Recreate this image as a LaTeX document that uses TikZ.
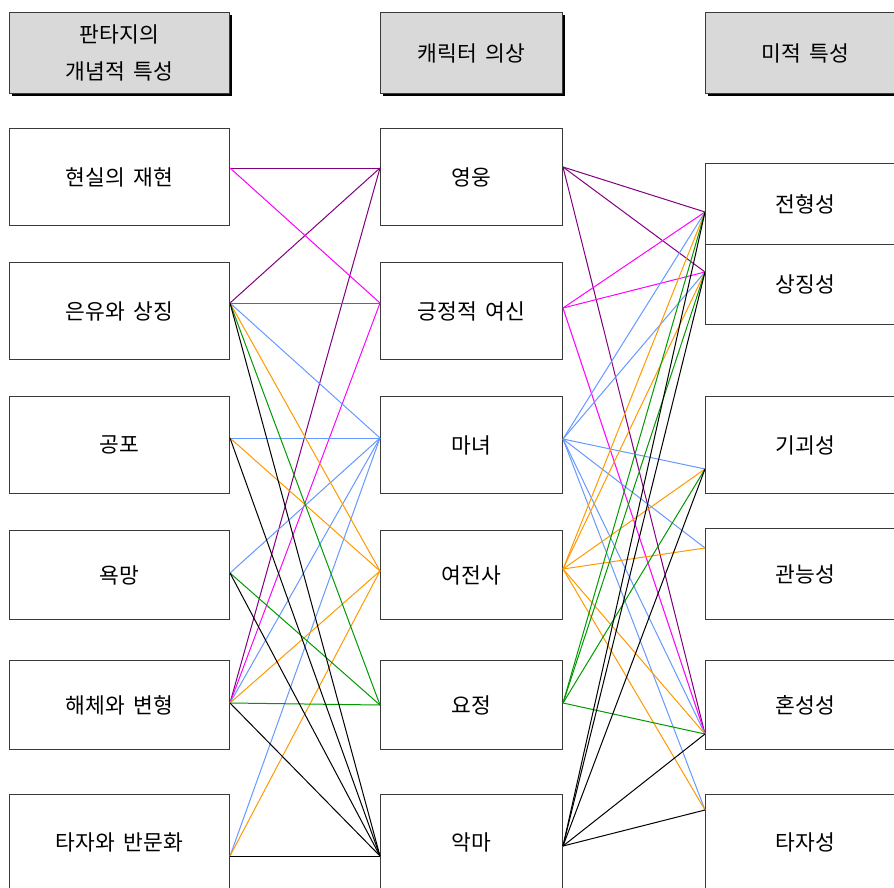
\documentclass[tikz,border=0pt]{standalone}
\usepackage{fontspec}
\newfontfamily\kr[WordSpace=1.8]{Noto Sans CJK KR}
\usetikzlibrary{shadows}
\definecolor{cpu}{HTML}{800080}
\definecolor{cmg}{HTML}{FF00FF}
\definecolor{cbl}{HTML}{6699FF}
\definecolor{cor}{HTML}{FF9900}
\definecolor{cgr}{HTML}{009900}
\definecolor{hdr}{HTML}{D9D9D9}
\definecolor{bord}{HTML}{3A3A3A}
\tikzset{
  box/.style={draw=bord, line width=1pt, fill=white, anchor=north west, inner sep=0pt,
    font=\kr\fontsize{21.5}{37}\selectfont, align=center},
  hbox/.style={box, fill=hdr, drop shadow={shadow xshift=2pt, shadow yshift=-2.2pt, fill=black, opacity=1}},
  ln/.style={line width=1pt},
  pu/.style={ln, draw=cpu},
  mg/.style={ln, draw=cmg},
  bl/.style={ln, draw=cbl},
  orl/.style={ln, draw=cor},
  gr/.style={ln, draw=cgr},
  bk/.style={ln, draw=black},
}
\begin{document}
\begin{tikzpicture}[x=1pt, y=-1pt]
\path[use as bounding box, clip] (0,0) rectangle (894,888);
% headers
\node[hbox, minimum width=220pt, minimum height=81pt] (H1) at (9,12) {판타지의\\개념적 특성};
\node[hbox, minimum width=182pt, minimum height=81pt] (H2) at (380,12) {캐릭터 의상};
\node[hbox, minimum width=200pt, minimum height=81pt] (H3) at (705,12) {미적 특성};
% left column
\node[box, minimum width=220pt, minimum height=97pt] (L1) at (9,128) {현실의 재현};
\node[box, minimum width=220pt, minimum height=97pt] (L2) at (9,262) {은유와 상징};
\node[box, minimum width=220pt, minimum height=97pt] (L3) at (9,396) {공포};
\node[box, minimum width=220pt, minimum height=89pt] (L4) at (9,530) {욕망};
\node[box, minimum width=220pt, minimum height=89pt] (L5) at (9,660) {해체와 변형};
\node[box, minimum width=220pt, minimum height=96pt] (L6) at (9,794) {타자와 반문화};
% middle column
\node[box, minimum width=182pt, minimum height=97pt] (M1) at (380,128) {영웅};
\node[box, minimum width=182pt, minimum height=97pt] (M2) at (380,262) {긍정적 여신};
\node[box, minimum width=182pt, minimum height=97pt] (M3) at (380,396) {마녀};
\node[box, minimum width=182pt, minimum height=89pt] (M4) at (380,530) {여전사};
\node[box, minimum width=182pt, minimum height=89pt] (M5) at (380,660) {요정};
\node[box, minimum width=182pt, minimum height=96pt] (M6) at (380,794) {악마};
% right column
\node[box, minimum width=200pt, minimum height=81pt] (R1) at (705,163) {전형성};
\node[box, minimum width=200pt, minimum height=80pt] (R2) at (705,244) {상징성};
\node[box, minimum width=200pt, minimum height=97pt] (R3) at (705,396) {기괴성};
\node[box, minimum width=200pt, minimum height=91pt] (R4) at (705,528) {관능성};
\node[box, minimum width=200pt, minimum height=89pt] (R5) at (705,660) {혼성성};
\node[box, minimum width=200pt, minimum height=96pt] (R6) at (705,794) {타자성};
% ports
\coordinate (l1) at (L1.east |- 0,168);
\coordinate (l2) at (L2.east |- 0,303);
\coordinate (l3) at (L3.east |- 0,438);
\coordinate (l4) at (L4.east |- 0,573);
\coordinate (l5) at (L5.east |- 0,703);
\coordinate (l6) at (L6.east |- 0,856);
\coordinate (ml1) at (M1.west |- 0,168);
\coordinate (ml2) at (M2.west |- 0,303);
\coordinate (ml3) at (M3.west |- 0,438);
\coordinate (ml4) at (M4.west |- 0,571);
\coordinate (ml5) at (M5.west |- 0,705);
\coordinate (ml6) at (M6.west |- 0,856);
\coordinate (mr1) at (M1.east |- 0,167);
\coordinate (mr2) at (M2.east |- 0,308);
\coordinate (mr3) at (M3.east |- 0,439);
\coordinate (mr4) at (M4.east |- 0,569);
\coordinate (mr5) at (M5.east |- 0,703);
\coordinate (mr6) at (M6.east |- 0,846);
\coordinate (r1) at (R1.west |- 0,212);
\coordinate (r2) at (R2.west |- 0,272);
\coordinate (r3) at (R3.west |- 0,469);
\coordinate (r4) at (R4.west |- 0,548);
\coordinate (r5) at (R5.west |- 0,734);
\coordinate (r6) at (R6.west |- 0,810);
% left connectors
\draw[pu] (l1) -- (ml1); \draw[pu] (l2) -- (ml1); \draw[pu] (l5) -- (ml1);
\draw[mg] (l1) -- (ml2); \draw[mg] (l2) -- (ml2); \draw[mg] (l5) -- (ml2);
\draw[bl] (l2) -- (ml3); \draw[bl] (l3) -- (ml3); \draw[bl] (l4) -- (ml3); \draw[bl] (l5) -- (ml3); \draw[bl] (l6) -- (ml3);
\draw[orl] (l2) -- (ml4); \draw[orl] (l3) -- (ml4); \draw[orl] (l5) -- (ml4); \draw[orl] (l6) -- (ml4);
\draw[gr] (l2) -- (ml5); \draw[gr] (l4) -- (ml5); \draw[gr] (l5) -- (ml5);
\draw[bk] (l2) -- (ml6); \draw[bk] (l3) -- (ml6); \draw[bk] (l4) -- (ml6); \draw[bk] (l5) -- (ml6); \draw[bk] (l6) -- (ml6);
% right connectors
\draw[pu] (mr1) -- (r1); \draw[pu] (mr1) -- (r2); \draw[pu] (mr1) -- (r5);
\draw[mg] (mr2) -- (r1); \draw[mg] (mr2) -- (r2); \draw[mg] (mr2) -- (r5);
\draw[bl] (mr3) -- (r1); \draw[bl] (mr3) -- (r2); \draw[bl] (mr3) -- (r3); \draw[bl] (mr3) -- (r4); \draw[bl] (mr3) -- (r5); \draw[bl] (mr3) -- (r6);
\draw[orl] (mr4) -- (r1); \draw[orl] (mr4) -- (r2); \draw[orl] (mr4) -- (r3); \draw[orl] (mr4) -- (r4); \draw[orl] (mr4) -- (r5); \draw[orl] (mr4) -- (r6);
\draw[gr] (mr5) -- (r1); \draw[gr] (mr5) -- (r2); \draw[gr] (mr5) -- (r3); \draw[gr] (mr5) -- (r5);
\draw[bk] (mr6) -- (r1); \draw[bk] (mr6) -- (r2); \draw[bk] (mr6) -- (r3); \draw[bk] (mr6) -- (r5); \draw[bk] (mr6) -- (r6);
\end{tikzpicture}
\end{document}
